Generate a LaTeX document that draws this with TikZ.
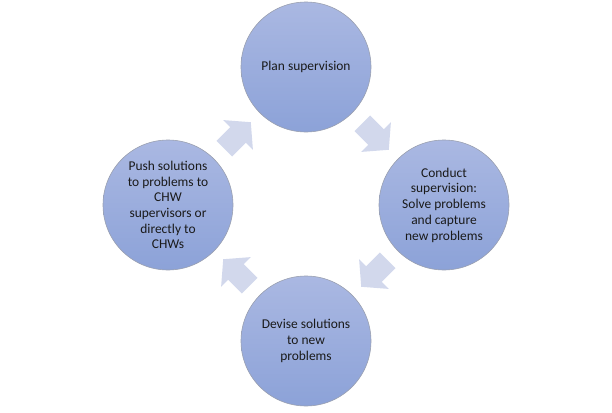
\documentclass[tikz,border=0pt]{standalone}
\usepackage{fontspec}
\setmainfont{Carlito}
\usetikzlibrary{calc}
\definecolor{ctop}{HTML}{AAB8E2}
\definecolor{cbot}{HTML}{8CA2D8}
\definecolor{cedge}{HTML}{9AA0B0}
\definecolor{afill}{HTML}{D2D8EC}
\definecolor{txt}{HTML}{1A1A1A}
\tikzset{
  stage/.style={circle, minimum size=130bp, inner sep=0pt, top color=ctop, bottom color=cbot,
    draw=cedge, line width=0.6pt, align=center, text=txt, font=\fontsize{13.5}{15.8}\selectfont},
  blockarrow/.pic={\fill[afill] (-18,-11) -- (1.5,-11) -- (1.5,-21) -- (19.5,0) -- (1.5,21) -- (1.5,11) -- (-18,11) -- cycle;}
}
\begin{document}
\begin{tikzpicture}[x=1bp,y=1bp]
\useasboundingbox (0,0) rectangle (612,412);
\node[stage] (T) at (306,345) {Plan supervision};
\node[stage] (R) at (444,207) {Conduct\\supervision:\\Solve problems\\and capture\\new problems};
\node[stage] (B) at (306,71) {Devise solutions\\to new\\problems};
\node[stage] (L) at (168,207) {Push solutions\\to problems to\\CHW\\supervisors or\\directly to\\CHWs};
\coordinate (a1) at ($(L)!0.5!(T)$);
\coordinate (a2) at ($(T)!0.5!(R)$);
\coordinate (a3) at ($(R)!0.5!(B)$);
\coordinate (a4) at ($(B)!0.5!(L)$);
\pic[rotate=45] at (a1) {blockarrow};
\pic[rotate=-45] at (a2) {blockarrow};
\pic[rotate=-135] at (a3) {blockarrow};
\pic[rotate=135] at (a4) {blockarrow};
\end{tikzpicture}
\end{document}
